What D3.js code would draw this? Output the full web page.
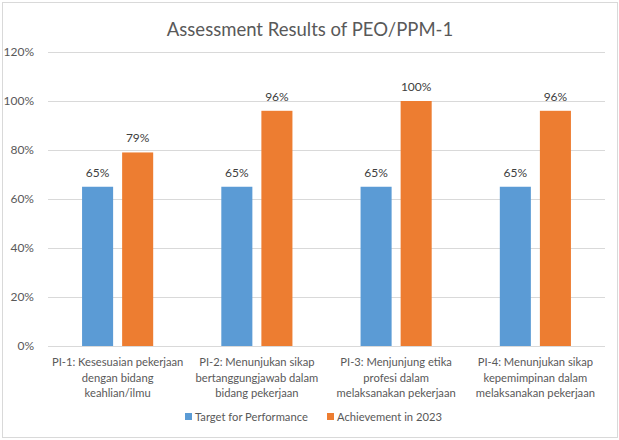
<!DOCTYPE html>
<html>
<head>
<meta charset="utf-8">
<script src="https://cdn.jsdelivr.net/npm/d3@7"></script>
<style>
  body { margin: 0; background: #fff; }
  svg text { font-family: Lato, 'Open Sans', sans-serif; }
</style>
</head>
<body>
<div id="root"></div>
<script>
const categories = [
  ['PI-1: Kesesuaian pekerjaan', 'dengan bidang', 'keahlian/ilmu'],
  ['PI-2: Menunjukan sikap', 'bertanggungjawab dalam', 'bidang pekerjaan'],
  ['PI-3: Menjunjung etika', 'profesi dalam', 'melaksanakan pekerjaan'],
  ['PI-4: Menunjukan sikap', 'kepemimpinan dalam', 'melaksanakan pekerjaan']
]
const seriesNames = ['Target for Performance', 'Achievement in 2023']
const target = [0.65, 0.65, 0.65, 0.65]
const achievement = [0.79, 0.96, 1.0, 0.96]
const yTicks = [0, 0.2, 0.4, 0.6, 0.8, 1.0, 1.2]
const colors = ['#5B9BD5', '#ED7D31']

const width = 619
const height = 440
const margin = { top: 52, right: 14, bottom: 94, left: 48 }

const svg = d3.select('#root').append('svg')
  .attr('width', width)
  .attr('height', height)

// chart frame
svg.append('rect')
  .attr('x', 2.5).attr('y', 2.5)
  .attr('width', 615).attr('height', 435)
  .attr('fill', '#fff')
  .attr('stroke', '#d9d9d9')

svg.append('text')
  .attr('x', 310).attr('y', 36)
  .attr('text-anchor', 'middle')
  .attr('font-size', 18.5)
  .attr('fill', '#595959')
  .text('Assessment Results of PEO/PPM-1')

const x = d3.scaleBand()
  .domain(d3.range(categories.length))
  .range([margin.left, width - margin.right])

const x1 = d3.scaleBand()
  .domain([0, 1])
  .range([0, x.bandwidth()])
  .paddingInner(0.225)
  .paddingOuter(0.85)

const y = d3.scaleLinear()
  .domain([0, 1.2])
  .range([height - margin.bottom, margin.top])

// gridlines
svg.append('g')
  .selectAll('line')
  .data(yTicks)
  .join('line')
  .attr('x1', margin.left).attr('x2', width - margin.right)
  .attr('y1', d => Math.round(y(d)) + 0.5)
  .attr('y2', d => Math.round(y(d)) + 0.5)
  .attr('stroke', '#d9d9d9')

svg.append('g')
  .selectAll('text')
  .data(yTicks)
  .join('text')
  .attr('x', 34)
  .attr('y', d => y(d) + 4)
  .attr('text-anchor', 'end')
  .attr('font-size', 12)
  .attr('fill', '#595959')
  .text(d3.format('.0%'))

const rows = categories.map((c, i) => [target[i], achievement[i]])

const groups = svg.append('g')
  .selectAll('g')
  .data(rows)
  .join('g')
  .attr('transform', (d, i) => `translate(${x(i)},0)`)

groups.selectAll('rect')
  .data(d => d)
  .join('rect')
  .attr('x', (d, j) => x1(j))
  .attr('y', d => y(d))
  .attr('width', x1.bandwidth())
  .attr('height', d => y(0) - y(d))
  .attr('fill', (d, j) => colors[j])

groups.selectAll('text.val')
  .data(d => d)
  .join('text')
  .attr('class', 'val')
  .attr('x', (d, j) => x1(j) + x1.bandwidth() / 2)
  .attr('y', d => y(d) - 10)
  .attr('text-anchor', 'middle')
  .attr('font-size', 12)
  .attr('fill', '#404040')
  .text(d3.format('.0%'))

// category labels
svg.append('g')
  .selectAll('text')
  .data(categories)
  .join('text')
  .attr('x', (d, i) => x(i) + x.bandwidth() / 2)
  .attr('y', 366)
  .attr('text-anchor', 'middle')
  .attr('font-size', 11.2)
  .attr('fill', '#595959')
  .each(function (lines) {
    d3.select(this).selectAll('tspan')
      .data(lines)
      .join('tspan')
      .attr('x', d3.select(this).attr('x'))
      .attr('dy', (d, k) => k === 0 ? 0 : 15.5)
      .text(d => d)
  })

// legend
const legendX = [185, 327]
const legend = svg.append('g')
  .selectAll('g')
  .data(seriesNames)
  .join('g')
  .attr('transform', (d, i) => `translate(${legendX[i]},413)`)

legend.append('rect')
  .attr('width', 7).attr('height', 7)
  .attr('fill', (d, i) => colors[i])

legend.append('text')
  .attr('x', 10).attr('y', 8)
  .attr('font-size', 11.2)
  .attr('fill', '#595959')
  .text(d => d)
</script>
</body>
</html>
